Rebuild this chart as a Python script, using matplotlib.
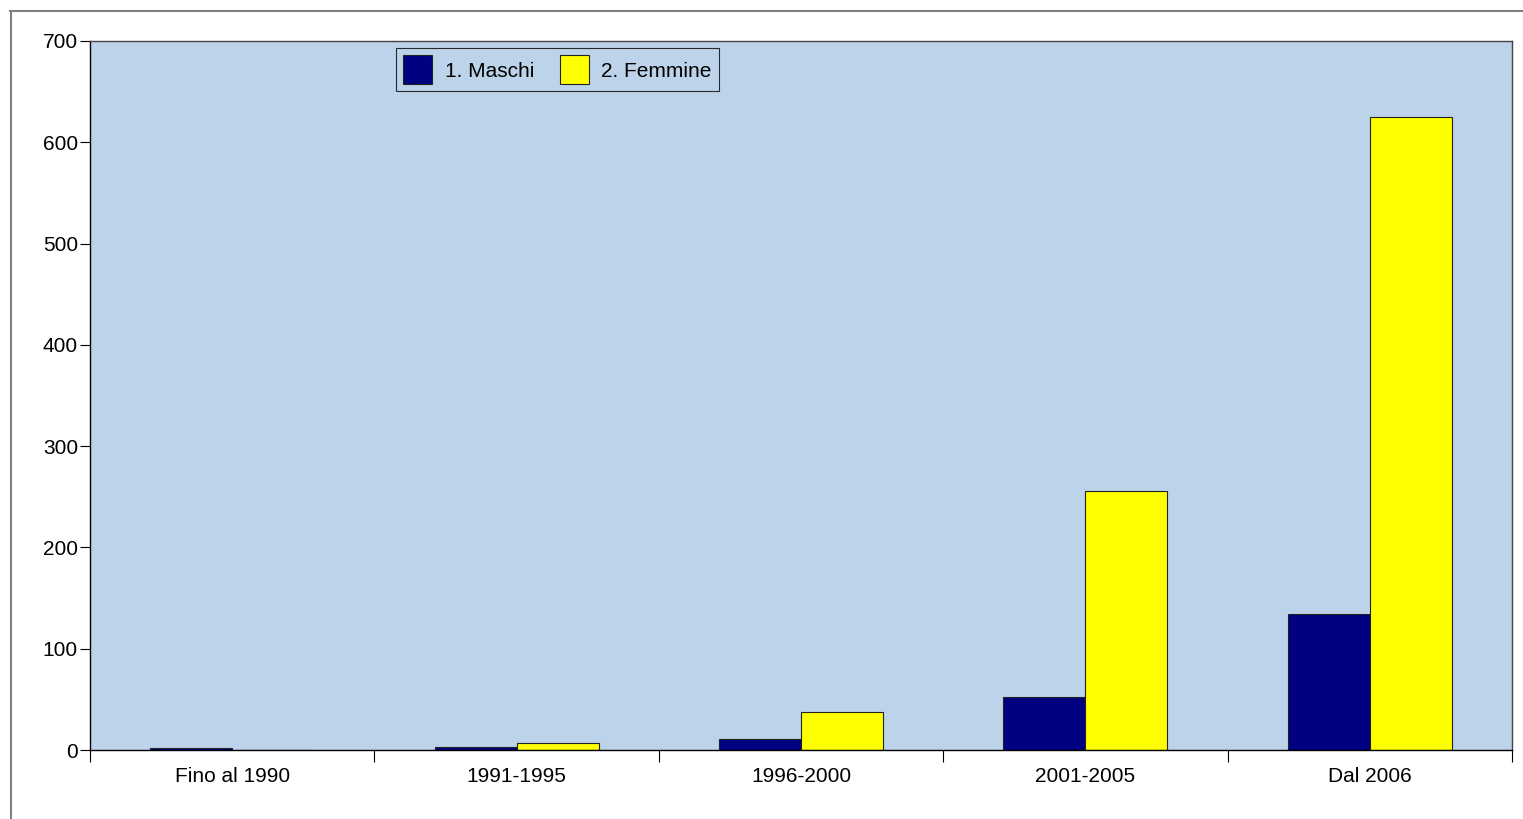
import matplotlib
matplotlib.use("Agg")
import matplotlib.pyplot as plt
import numpy as np
from matplotlib.lines import Line2D

plt.rcParams["font.family"] = ["Liberation Sans", "DejaVu Sans"]

# Data
periods = ["Fino al 1990", "1991-1995", "1996-2000", "2001-2005", "Dal 2006"]
maschi = [2, 3, 11, 52, 134]
femmine = [0, 7, 38, 256, 625]
series_labels = ["1. Maschi", "2. Femmine"]
y_ticks = [0, 100, 200, 300, 400, 500, 600, 700]

fig = plt.figure(figsize=(15.23, 8.19), dpi=100)
ax = fig.add_axes([90 / 1523, 1 - 750 / 819, 1422 / 1523, 709 / 819])
ax.set_facecolor("#bcd3e9")

x = np.arange(len(periods))
bw = 0.288
ax.bar(x - bw / 2, maschi, bw, color="#000080", edgecolor="#222222",
       linewidth=0.8, label=series_labels[0])
ax.bar(x + bw / 2, femmine, bw, color="#ffff00", edgecolor="#222222",
       linewidth=0.8, label=series_labels[1])

ax.set_xlim(-0.5, len(periods) - 0.5)
ax.set_ylim(0, 700)
ax.set_yticks(y_ticks)
ax.tick_params(axis="y", direction="out", length=7.2, width=0.8,
               pad=1.5, labelsize=15, colors="black")

# labels in category centers, ticks at category boundaries
ax.set_xticks(x)
ax.set_xticklabels(periods)
ax.set_xticks(np.arange(len(periods) + 1) - 0.5, minor=True)
ax.tick_params(axis="x", which="major", length=0, pad=12, labelsize=15)
ax.tick_params(axis="x", which="minor", direction="out", length=8.6, width=0.8)

for s in ["left", "bottom"]:
    ax.spines[s].set_color("black")
    ax.spines[s].set_linewidth(1.0)
for s in ["top", "right"]:
    ax.spines[s].set_color("#444444")
    ax.spines[s].set_linewidth(1.0)

leg = ax.legend(loc="upper left", bbox_to_anchor=(0.2152, 0.99), ncol=2,
                fontsize=15, frameon=True, fancybox=False, borderpad=0.35,
                handlelength=1.4, handleheight=1.75, handletextpad=0.58,
                columnspacing=1.25, borderaxespad=0)
leg.get_frame().set_edgecolor("black")
leg.get_frame().set_linewidth(0.8)
leg.get_frame().set_facecolor("#bcd3e9")

# outer gray frame (only top and left visible)
fig.add_artist(Line2D([10 / 1523, 1.0], [1 - 10.5 / 819, 1 - 10.5 / 819],
                      transform=fig.transFigure, color="#808080", linewidth=1.5))
fig.add_artist(Line2D([10.5 / 1523, 10.5 / 1523], [0.0, 1 - 10.5 / 819],
                      transform=fig.transFigure, color="#808080", linewidth=1.5))

fig.savefig("out.png", dpi=100)
